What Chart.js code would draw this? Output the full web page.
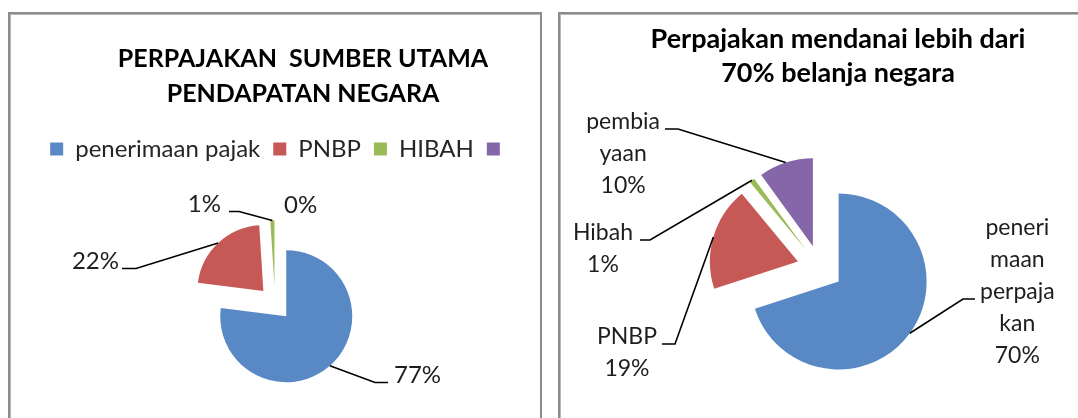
<!DOCTYPE html>
<html>
<head>
<meta charset="utf-8">
<script src="https://cdn.jsdelivr.net/npm/chart.js@4.4.1/dist/chart.umd.min.js"></script>
<style>
  html, body { margin: 0; padding: 0; background: #fff; overflow: hidden; }
  body { width: 1078px; height: 418px; position: relative; }
  .box { position: absolute; top: 12px; height: 420px; border: 2px solid #8c8c8c; border-bottom: none; box-shadow: inset 1px 1px 0 #b8b8b8; }
  #boxL { left: 8px; width: 530px; }
  #boxR { left: 558px; width: 540px; }
  canvas { position: absolute; }
</style>
</head>
<body>
<div class="box" id="boxL"></div>
<div class="box" id="boxR"></div>
<canvas id="pieL" width="530" height="424" style="left:10px;top:14px"></canvas>
<canvas id="pieR" width="520" height="440" style="left:560px;top:14px"></canvas>
<script>
// left chart
const leftTitle = ['PERPAJAKAN  SUMBER UTAMA', 'PENDAPATAN NEGARA'];
const leftCategories = ['penerimaan pajak', 'PNBP', 'HIBAH', ''];
const leftValues = [77, 22, 1, 0];

// right chart (names wrapped the way the labels show them)
const rightTitle = ['Perpajakan mendanai lebih dari', '70% belanja negara'];
const rightCategories = [['peneri', 'maan', 'perpaja', 'kan'], ['PNBP'], ['Hibah'], ['pembia', 'yaan']];
const rightValues = [70, 19, 1, 10];

const sliceColors = ['#5889c4', '#c65955', '#9bbb59', '#8566a8'];

// pulls every slice out from the centre along its middle angle
const explode = {
  id: 'explode',
  afterDatasetUpdate(chart, args, opts) {
    const d = opts.distance || 0;
    args.meta.data.forEach(arc => {
      const mid = (arc.startAngle + arc.endAngle) / 2;
      arc.x += Math.cos(mid) * d;
      arc.y += Math.sin(mid) * d;
    });
  }
};

// title / legend are not centred on the pie in the original
const blockShift = {
  id: 'blockShift',
  afterLayout(chart, args, opts) {
    const t = chart.titleBlock;
    if (t && opts.title) {
      t.left += opts.title;
      t.right += opts.title;
    }
    const l = chart.legend;
    if (l && opts.legend) {
      l.left += opts.legend;
      l.right += opts.legend;
    }
  }
};

// percentage labels with leader lines
const sliceLabels = {
  id: 'sliceLabels',
  afterDatasetsDraw(chart, args, opts) {
    const {ctx, chartArea} = chart;
    const cx = (chartArea.left + chartArea.right) / 2;
    const cy = (chartArea.top + chartArea.bottom) / 2;
    const meta = chart.getDatasetMeta(0);
    const values = chart.data.datasets[0].data;
    const total = values.reduce((a, b) => a + b, 0);
    ctx.save();
    ctx.font = opts.font;
    ctx.fillStyle = opts.color;
    ctx.strokeStyle = opts.lineColor;
    ctx.lineWidth = opts.lineWidth;
    ctx.textAlign = 'center';
    ctx.textBaseline = 'alphabetic';
    meta.data.forEach((arc, i) => {
      const spot = opts.spots[i];
      const pct = Math.round(values[i] / total * 100) + '%';
      const lines = (opts.showName ? [].concat(chart.data.labels[i]) : []).concat(pct);
      const ex = cx + spot.x, ey = cy + spot.y;
      const legX = ex + spot.leg;
      if (spot.leg !== 0) {
        const mid = (arc.startAngle + arc.endAngle) / 2;
        ctx.beginPath();
        ctx.moveTo(arc.x + Math.cos(mid) * arc.outerRadius, arc.y + Math.sin(mid) * arc.outerRadius);
        ctx.lineTo(ex, ey);
        ctx.lineTo(legX, ey);
        ctx.stroke();
      }
      const a = spot.anchor || 0;
      const gap = spot.gap != null ? spot.gap : opts.gap;
      const w = ctx.measureText(lines[a]).width;
      let center;
      if (spot.leg > 0) center = legX + gap + w / 2;
      else if (spot.leg < 0) center = legX - gap - w / 2;
      else center = ex + w / 2;
      lines.forEach((t, j) => ctx.fillText(t, center, ey + (j - a) * opts.lineHeight));
    });
    ctx.restore();
  }
};

Chart.register(explode, blockShift, sliceLabels);

new Chart(document.getElementById('pieL'), {
  type: 'pie',
  data: {
    labels: leftCategories,
    datasets: [{ data: leftValues, backgroundColor: sliceColors, borderWidth: 0 }]
  },
  options: {
    responsive: false,
    animation: false,
    events: [],
    radius: 66,
    layout: { padding: { bottom: 2 } },
    plugins: {
      title: {
        display: true,
        text: leftTitle,
        color: '#000',
        font: { family: 'Lato', size: 25, weight: 'bold', lineHeight: 35 / 25 },
        padding: { top: 27, bottom: 13 }
      },
      legend: {
        position: 'top',
        labels: {
          boxWidth: 13, boxHeight: 13, padding: 13, color: '#262626',
          font: { family: 'Lato', size: 24 }
        }
      },
      tooltip: { enabled: false },
      explode: { distance: 17 },
      blockShift: { title: 28, legend: 6 },
      sliceLabels: {
        font: '24px Lato', color: '#1e1e1e', lineColor: '#000', lineWidth: 1.6,
        gap: 6, lineHeight: 31, showName: false,
        spots: [
          { x: 100, y: 79, leg: 13 },
          { x: -139, y: -35, leg: -14, gap: 3 },
          { x: -36, y: -92, leg: -10, gap: 8 },
          { x: 9, y: -91, leg: 0 }
        ]
      }
    }
  }
});

new Chart(document.getElementById('pieR'), {
  type: 'pie',
  data: {
    labels: rightCategories,
    datasets: [{ data: rightValues, backgroundColor: sliceColors, borderWidth: 0 }]
  },
  options: {
    responsive: false,
    animation: false,
    events: [],
    radius: 88,
    layout: { padding: { bottom: 8 } },
    plugins: {
      title: {
        display: true,
        text: rightTitle,
        color: '#000',
        font: { family: 'Lato', size: 27, weight: 'bold', lineHeight: 34 / 27 },
        padding: { top: 8, bottom: 0 }
      },
      legend: { display: false },
      tooltip: { enabled: false },
      explode: { distance: 23 },
      blockShift: { title: 18 },
      sliceLabels: {
        font: '23px Lato', color: '#1e1e1e', lineColor: '#000', lineWidth: 1.6,
        gap: 5, lineHeight: 32, showName: true,
        spots: [
          { x: 143, y: 31, leg: 12, anchor: 2, gap: 5 },
          { x: -145, y: 76, leg: -13 },
          { x: -170, y: -28, leg: -10, gap: 7 },
          { x: -142, y: -139, leg: -13 }
        ]
      }
    }
  }
});
</script>
</body>
</html>
